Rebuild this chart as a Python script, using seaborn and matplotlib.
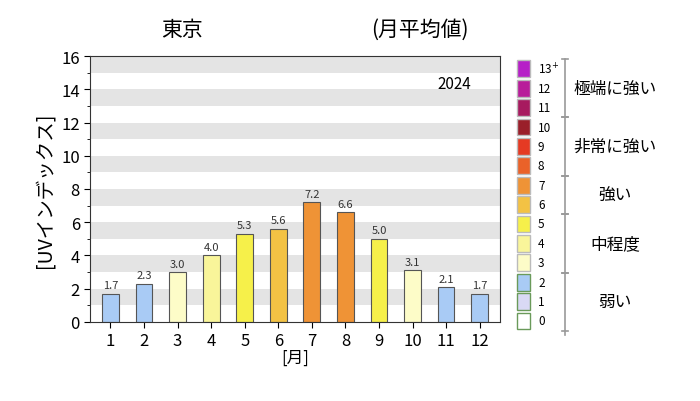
import matplotlib
matplotlib.use("Agg")
import matplotlib.pyplot as plt
import seaborn as sns
import pandas as pd

plt.rcParams["font.family"] = ["Noto Sans CJK JP"]

months = [str(m) for m in range(1, 13)]
uv = [1.7, 2.3, 3.0, 4.0, 5.3, 5.6, 7.2, 6.6, 5.0, 3.1, 2.1, 1.7]

level_labels = ["0", "1", "2", "3", "4", "5", "6", "7", "8", "9", "10", "11", "12", "13$^{+}$"]
level_colors = ["#ffffff", "#d9d9f5", "#a9cbf5", "#fdfcc8", "#f9f59a", "#f6f04a",
                "#f3c244", "#ef9336", "#ea6229", "#e53a23", "#9a1f2a", "#a71a5f",
                "#b81d9a", "#b620c7"]
groups = [("弱い", 0, 2), ("中程度", 3, 5), ("強い", 6, 7), ("非常に強い", 8, 10), ("極端に強い", 11, 13)]

df = pd.DataFrame({"month": months, "uv": uv})
bar_colors = [level_colors[min(int(round(v)), 13)] for v in uv]

fig = plt.figure(figsize=(7, 4.02), dpi=100)
ax = fig.add_axes([0.129, 0.197, 0.585, 0.661])

for k in range(0, 16, 2):
    ax.axhspan(k + 1, k + 2, color="#e4e4e4", zorder=0, lw=0)

sns.barplot(data=df, x="month", y="uv", palette=bar_colors, hue="month", legend=False,
            saturation=1, edgecolor="#555555", linewidth=0.8, width=0.5, ax=ax, zorder=2)
for i, v in enumerate(uv):
    ax.text(i, v + 0.2, f"{v:.1f}", ha="center", va="bottom", fontsize=8, color="#333333")

ax.set_ylim(0, 16)
ax.set_yticks(range(0, 17, 2))
ax.set_yticks(range(0, 17), minor=True)
ax.set_xlim(-0.6, 11.6)
ax.tick_params(labelsize=12, length=4)
ax.set_xlabel("[月]", fontsize=12, labelpad=0)
ax.set_ylabel("[UVインデックス]", fontsize=14)
ax.text(0.93, 0.88, "2024", transform=ax.transAxes, ha="right", fontsize=11)
for s in ax.spines.values():
    s.set_color("#333333")
fig.text(0.26, 0.91, "東京", ha="center", fontsize=15)
fig.text(0.60, 0.91, "(月平均値)", ha="center", fontsize=15)

# legend scale
step = 19.4 / 402
y0 = (402 - 322) / 402
for i, (lab, col) in enumerate(zip(level_labels, level_colors)):
    y = y0 + i * step
    ec = "#6a9a5a" if i < 3 else "#bbbbbb"
    fig.patches.append(plt.Rectangle((517 / 700, y - 0.021), 0.019, 0.042, facecolor=col,
                                     edgecolor=ec, lw=1, transform=fig.transFigure))
    fig.text(538 / 700, y, lab, va="center", ha="left", fontsize=8.5)
xl = 565 / 700
fig.add_artist(plt.Line2D([xl, xl], [y0 - 0.5 * step - 0.01, y0 + 13.5 * step], color="#999999",
                          lw=1.2, transform=fig.transFigure))
for name, lo, hi in groups:
    for b in (lo - 0.5, hi + 0.5):
        yb = y0 + b * step
        fig.add_artist(plt.Line2D([xl - 0.004, xl + 0.004], [yb, yb], color="#999999",
                                  lw=1.2, transform=fig.transFigure))
    fig.text(615 / 700, y0 + (lo + hi) / 2 * step, name, ha="center", va="center", fontsize=12)

fig.savefig("out.png")
